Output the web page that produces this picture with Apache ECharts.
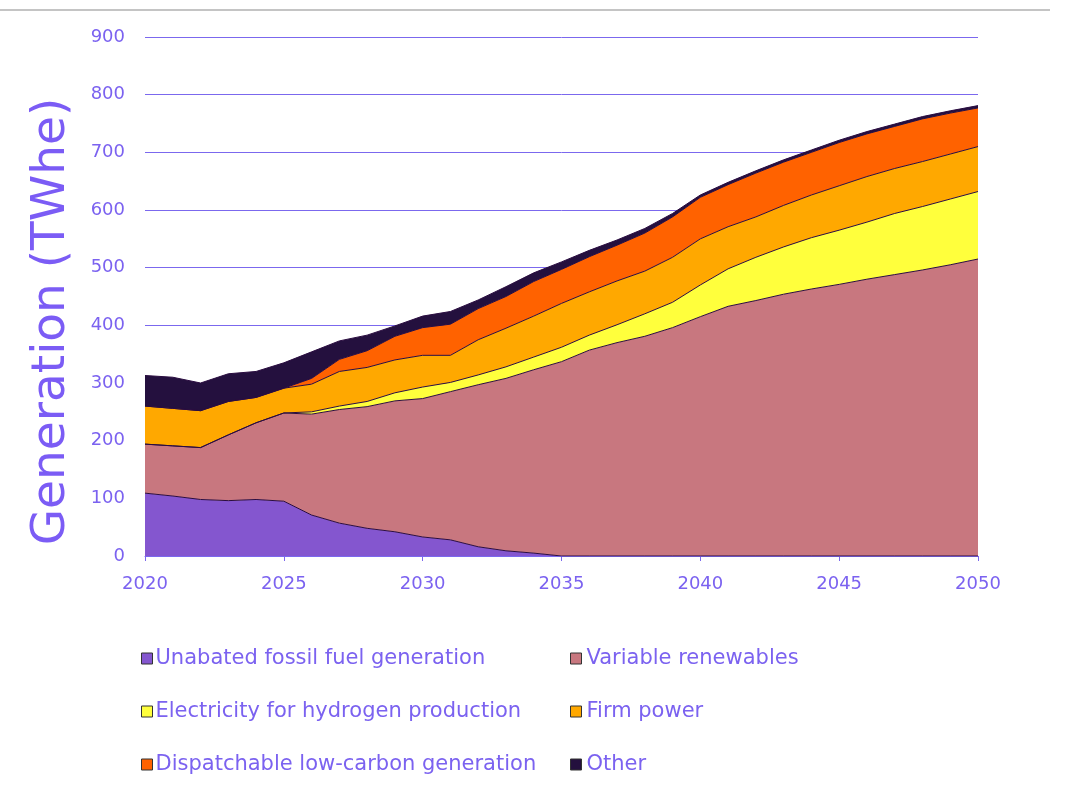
<!DOCTYPE html>
<html>
<head>
<meta charset="utf-8">
<script src="https://cdn.jsdelivr.net/npm/echarts@6/dist/echarts.min.js"></script>
<style>
html,body{margin:0;padding:0;background:#fff;}
#chart{width:1066px;height:803px;}
</style>
</head>
<body>
<div id="chart"></div>
<script>
const years = ['2020','2021','2022','2023','2024','2025','2026','2027','2028','2029','2030',
  '2031','2032','2033','2034','2035','2036','2037','2038','2039','2040',
  '2041','2042','2043','2044','2045','2046','2047','2048','2049','2050'];

const fossil = [109,104,98,96,98,95,71,57,48,42,33,28,16,9,5,0,0,0,0,0,0,0,0,0,0,0,0,0,0,0,0];
const renewables = [85,87,90,114,133,153,175,197,211,227,240,257,281,299,318,337,357,370,381,396,415,433,443,454,463,471,480,488,496,505,515];
const hydrogen = [0,0,0,0,0,0,4,6,9,14,20,16,17,20,22,25,26,31,39,44,55,65,75,82,89,94,99,106,110,114,117];
const firm = [66,65,64,58,44,43,48,60,59,57,55,47,61,67,71,76,75,76,74,78,80,73,70,72,74,77,79,78,78,78,78];
const dispatchable = [0,0,0,0,0,0,10,21,29,41,48,54,54,55,60,59,61,62,66,70,72,73,76,75,74,75,74,73,74,71,67];
const other = [53,54,48,48,45,44,46,32,27,18,20,22,15,17,15,13,11,9,8,6,4,4,4,4,4,4,4,4,4,4,4];

const seriesNames = ['Unabated fossil fuel generation','Variable renewables','Electricity for hydrogen production','Firm power','Dispatchable low-carbon generation','Other'];
const seriesData = [fossil, renewables, hydrogen, firm, dispatchable, other];
const colors = ['#8456CF','#C8777F','#FFFF3C','#FFA800','#FF6200','#24103E'];

const textColor = '#7B62F0';
const fontFam = 'DejaVu Sans, sans-serif';

const chart = echarts.init(document.getElementById('chart'));
chart.setOption({
  animation: false,
  backgroundColor: '#ffffff',
  graphic: [{
    type: 'line',
    shape: {x1: 0, y1: 10, x2: 1050, y2: 10},
    style: {stroke: '#c4c4c4', lineWidth: 2}
  }],
  grid: {left: 145, right: 88, top: 37, bottom: 247},
  legend: [{
    orient: 'vertical', left: 136, top: 643, itemGap: 32,
    icon: 'rect', itemWidth: 11, itemHeight: 11,
    itemStyle: {borderColor: '#333', borderWidth: 1},
    textStyle: {color: textColor, fontSize: 21, fontFamily: fontFam, padding: [0,0,0,-2]},
    data: [seriesNames[0], seriesNames[2], seriesNames[4]]
  },{
    orient: 'vertical', left: 565, top: 643, itemGap: 32,
    icon: 'rect', itemWidth: 11, itemHeight: 11,
    itemStyle: {borderColor: '#333', borderWidth: 1},
    textStyle: {color: textColor, fontSize: 21, fontFamily: fontFam, padding: [0,0,0,0]},
    data: [seriesNames[1], seriesNames[3], seriesNames[5]]
  }],
  xAxis: {
    type: 'category', data: years, boundaryGap: false,
    axisLine: {show: true, lineStyle: {color: '#7B68EE', width: 1}},
    axisTick: {show: true, interval: 4, length: 5, lineStyle: {color: '#7B68EE'}},
    axisLabel: {interval: 4, color: textColor, fontSize: 18, fontFamily: fontFam, margin: 19},
    splitLine: {show: false}
  },
  yAxis: {
    type: 'value', min: 0, max: 900, interval: 100,
    name: 'Generation (TWhe)', nameLocation: 'middle', nameGap: 70,
    nameTextStyle: {color: '#7B5CF5', fontSize: 47, fontFamily: fontFam, padding: [0, 50, 0, 0]},
    axisLine: {show: false}, axisTick: {show: false},
    axisLabel: {color: textColor, fontSize: 18, fontFamily: fontFam, margin: 20},
    splitLine: {show: true, lineStyle: {color: '#7B68EE', width: 1}}
  },
  series: seriesNames.map((n, i) => ({
    name: n, type: 'line', stack: 'total', data: seriesData[i],
    showSymbol: false, symbol: 'none',
    lineStyle: {color: '#2A0C40', width: 1},
    itemStyle: {color: colors[i]},
    areaStyle: {color: colors[i], opacity: 1},
    z: 2
  }))
});
</script>
</body>
</html>
